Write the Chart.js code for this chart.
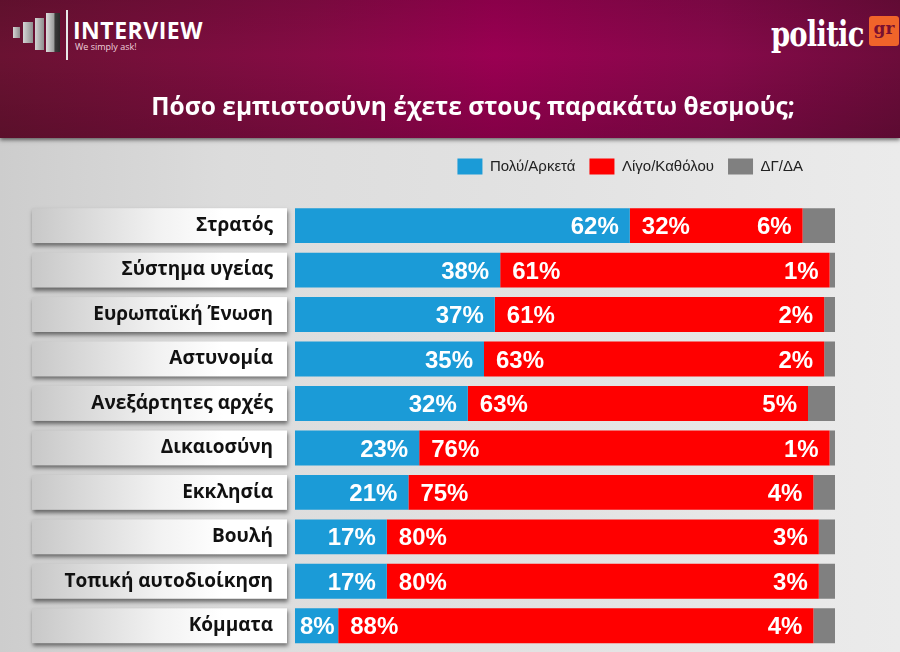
<!DOCTYPE html>
<html>
<head>
<meta charset="utf-8">
<script src="https://cdn.jsdelivr.net/npm/chart.js@4.4.1/dist/chart.umd.min.js"></script>
<style>
  html, body { margin: 0; padding: 0; }
  body { width: 900px; height: 652px; position: relative; overflow: hidden;
         background: linear-gradient(90deg, #cdcdcd 0%, #dcdcdc 25%, #e2e2e2 60%, #ebebeb 100%); font-family: "Liberation Sans", Arial, sans-serif; }
  #banner { position: absolute; left: 0; top: 0; width: 900px; height: 138px;
            background: linear-gradient(90deg, #6a1232 0%, #860b45 35%, #9a0052 55%, #86094a 80%, #6c0c3a 100%);
            box-shadow: 0 2px 4px rgba(0,0,0,0.55); }
  #banner:after { content: ""; position: absolute; left: 0; top: 0; right: 0; bottom: 0;
            background: linear-gradient(180deg, rgba(0,0,0,0.1) 0%, rgba(0,0,0,0) 40%, rgba(0,0,0,0.15) 100%); }
  .iv-bars { position: absolute; left: 13px; top: 13px; width: 50px; height: 45px; z-index: 2; }
  .iv-bars div { position: absolute; background: linear-gradient(90deg, #d4d4d4, #8e8e8e); }
  .iv-line { position: absolute; left: 66px; top: 10px; width: 2px; height: 50px; background: #e8e8e8; z-index: 2; }
  .iv-name { position: absolute; left: 73px; top: 14px; color: #fff; font: bold 23px "Open Sans", Arial, sans-serif; letter-spacing: 0.5px; z-index: 2; }
  .iv-tag { position: absolute; left: 75px; top: 40px; color: #f0d0dc; font: 9px "Open Sans", Arial, sans-serif; z-index: 2; }
  .pol { position: absolute; left: 771px; top: 12px; color: #fff; font: bold 36px "DejaVu Serif", serif; letter-spacing: -1px;
         transform: scaleX(0.76); transform-origin: left top; z-index: 2; }
  .pol-gr { position: absolute; left: 869px; top: 16px; width: 30px; height: 30px; background: #f0642a; border-radius: 3px;
            color: #7a1030; font: bold 17px "DejaVu Serif", serif; text-align: center; line-height: 24px; z-index: 2; }
  canvas { position: absolute; left: 0; top: 0; z-index: 3; }
</style>
</head>
<body>
<div id="banner">
  <div class="iv-bars">
    <div style="left:0;top:14px;width:7px;height:11px"></div>
    <div style="left:10px;top:9px;width:10px;height:21px"></div>
    <div style="left:22px;top:5px;width:9px;height:32px"></div>
    <div style="left:33px;top:0;width:14px;height:39px;background:linear-gradient(90deg,#dcdcdc,#a0a0a0 55%,#3a3a3a 65%,#2a2a2a)"></div>
  </div>
  <div class="iv-line"></div>
  <div class="iv-name">INTERVIEW</div>
  <div class="iv-tag">We simply ask!</div>
  <div class="pol">politic</div>
  <div class="pol-gr">gr</div>
</div>
<canvas id="chart" width="900" height="652"></canvas>
<script>
const categories = ['Στρατός', 'Σύστημα υγείας', 'Ευρωπαϊκή Ένωση', 'Αστυνομία', 'Ανεξάρτητες αρχές',
  'Δικαιοσύνη', 'Εκκλησία', 'Βουλή', 'Τοπική αυτοδιοίκηση', 'Κόμματα'];
const seriesNames = ['Πολύ/Αρκετά', 'Λίγο/Καθόλου', 'ΔΓ/ΔΑ'];
const muchValues = [62, 38, 37, 35, 32, 23, 21, 17, 17, 8];
const littleValues = [32, 61, 61, 63, 63, 76, 75, 80, 80, 88];
const dkValues = [6, 1, 2, 2, 5, 1, 4, 3, 3, 4];
const titleText = 'Πόσο εμπιστοσύνη έχετε στους παρακάτω θεσμούς;';

const colors = ['#1b9bd7', '#ff0000', '#808080'];

// label boxes behind the category names
const labelBoxes = {
  id: 'labelBoxes',
  beforeDraw(chart) {
    const ctx = chart.ctx;
    const y = chart.scales.y;
    const meta = chart.getDatasetMeta(0);
    categories.forEach((c, i) => {
      const cy = y.getPixelForValue(i);
      const h = meta.data[i].height;
      const x0 = 32, x1 = 287;
      ctx.save();
      ctx.shadowColor = 'rgba(0,0,0,0.5)';
      ctx.shadowBlur = 4;
      ctx.shadowOffsetX = 1;
      ctx.shadowOffsetY = 3;
      const g = ctx.createLinearGradient(x0, 0, x1, 0);
      g.addColorStop(0, '#c8c8c8');
      g.addColorStop(0.5, '#f2f2f2');
      g.addColorStop(0.75, '#ffffff');
      g.addColorStop(1, '#ffffff');
      ctx.fillStyle = g;
      ctx.fillRect(x0, cy - h / 2, x1 - x0, h);
      ctx.restore();
    });
  }
};

// percentage labels on the bars
const valueLabels = {
  id: 'valueLabels',
  afterDatasetsDraw(chart) {
    const ctx = chart.ctx;
    const blue = chart.getDatasetMeta(0).data;
    const red = chart.getDatasetMeta(1).data;
    ctx.save();
    ctx.fillStyle = '#ffffff';
    ctx.font = 'bold 24px "Liberation Sans", Arial, sans-serif';
    ctx.textBaseline = 'middle';
    categories.forEach((c, i) => {
      const b = blue[i], r = red[i];
      const t = muchValues[i] + '%';
      const bx = Math.max(b.x - 11, b.base + 5 + ctx.measureText(t).width);
      ctx.textAlign = 'right';
      ctx.fillText(t, bx, b.y + 2);
      ctx.textAlign = 'left';
      ctx.fillText(littleValues[i] + '%', r.base + 12, r.y + 2);
      ctx.textAlign = 'right';
      ctx.fillText(dkValues[i] + '%', r.x - 11, r.y + 2);
    });
    ctx.restore();
  }
};

// move title and legend horizontally to where they sit in the banner
const headerShift = {
  id: 'headerShift',
  afterLayout(chart) {
    chart.titleBlock.left = 111;
    chart.legend.right = 817;
  }
};

new Chart(document.getElementById('chart'), {
  type: 'bar',
  data: {
    labels: categories,
    datasets: [
      { label: seriesNames[0], data: muchValues, backgroundColor: colors[0] },
      { label: seriesNames[1], data: littleValues, backgroundColor: colors[1] },
      { label: seriesNames[2], data: dkValues, backgroundColor: colors[2] }
    ]
  },
  options: {
    indexAxis: 'y',
    responsive: false,
    animation: false,
    events: [],
    categoryPercentage: 1,
    barPercentage: 0.785,
    layout: { padding: { left: 0, right: 65, top: 0, bottom: 4 } },
    scales: {
      x: {
        stacked: true, min: 0, max: 100, position: 'top',
        ticks: { display: false }, grid: { display: false }, border: { display: false },
        afterFit(scale) { scale.height = 19; }
      },
      y: {
        stacked: true,
        grid: { display: false, drawTicks: false },
        border: { display: false },
        ticks: { color: '#111', padding: 22, font: { family: '"Open Sans", Arial, sans-serif', size: 19, weight: 'bold' } },
        afterFit(scale) { scale.width = 295; scale.paddingTop = 0; scale.paddingBottom = 0; }
      }
    },
    plugins: {
      title: {
        display: true,
        text: titleText,
        color: '#ffffff',
        font: { family: '"Open Sans", Arial, sans-serif', size: 24.5, weight: 'bold' },
        padding: { top: 93, bottom: 22 }
      },
      legend: {
        display: true,
        align: 'end',
        labels: { color: '#222', boxWidth: 25, boxHeight: 16, padding: 14,
                  font: { family: '"Liberation Sans", Arial, sans-serif', size: 15 } }
      },
      tooltip: { enabled: false }
    }
  },
  plugins: [labelBoxes, valueLabels, headerShift]
});
</script>
</body>
</html>
